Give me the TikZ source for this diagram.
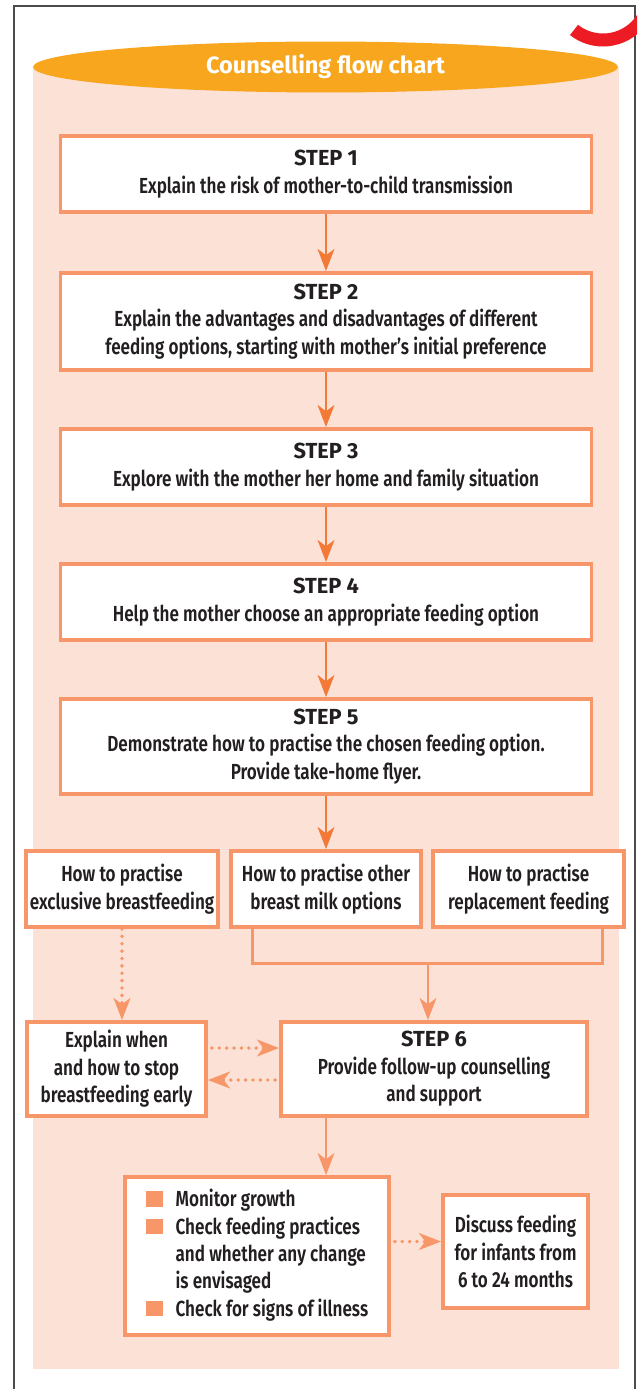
\documentclass[tikz,border=0pt]{standalone}
\usepackage{fontspec}
\setmainfont{Fira Sans}[FakeStretch=0.785, UprightFont={* SemiBold}, BoldFont={* Bold}]
\newfontfamily\headfont{Fira Sans}[UprightFont={* Bold}]
\usepackage{tikz}
\usetikzlibrary{arrows.meta, positioning, calc, shapes.geometric}
\definecolor{boxc}{RGB}{247,150,104}
\definecolor{arrc}{RGB}{243,122,54}
\definecolor{pinkbg}{RGB}{252,226,214}
\definecolor{titlec}{RGB}{247,166,30}
\definecolor{ink}{RGB}{35,31,32}
\definecolor{redarc}{RGB}{237,28,36}
\newcommand{\sqbullet}{\textcolor{boxc}{\rule{9.6pt}{8.8pt}}}
\newcommand{\stephead}[1]{{\headfont STEP #1}}

\begin{document}
\begin{tikzpicture}[x=0.02cm, y=-0.02cm, font=\fontsize{12.4}{15.6}\selectfont,
    >={Stealth[length=12.5pt, width=9.5pt, inset=3.5pt]},
    box/.style={draw=boxc, line width=2.2pt, fill=white, align=center, text=ink, inner sep=2pt},
    stepbox/.style={box, minimum width=10.62cm, minimum height=1.52cm},
    optbox/.style={box, minimum width=3.81cm, minimum height=1.52cm},
    arr/.style={->, draw=arrc, line width=1.7pt},
    link/.style={draw=boxc, line width=1.7pt},
    arrl/.style={link, ->},
    dots/.style={->, draw=boxc, line width=2.2pt, line cap=round, dash pattern=on 0pt off 4.2pt}]
    \useasboundingbox (0,0) rectangle (637,1389);
    % background and frame
    \fill[pinkbg] (33,67) rectangle (619,1369);
    \draw[gray!60!black, line width=1.3pt] (14,1389) -- (14,6) -- (635,6) -- (635,1389);
    \begin{scope}
        \clip (603,-7) -- (552,58) -- (603,70) -- (637,70) -- (637,-7) -- cycle;
        \draw[redarc, line width=7.4pt] (603,-7) circle[radius=47];
    \end{scope}
    \node[ellipse, fill=titlec, minimum width=11.7cm, minimum height=0.92cm, text=white,
        font=\fontsize{13.4}{15}\headfont] (ttl) at (325.5,67) {Counselling flow chart};

    % steps
    \node[stepbox] (s1) at (326,174) {\stephead{1}\\Explain the risk of mother-to-child transmission};
    \node[stepbox, minimum height=1.94cm] (s2) at (326,321.5) {\stephead{2}\\Explain the advantages and disadvantages of different\\feeding options, starting with mother’s initial preference};
    \node[stepbox] (s3) at (326,467) {\stephead{3}\\Explore with the mother her home and family situation};
    \node[stepbox] (s4) at (326,602) {\stephead{4}\\Help the mother choose an appropriate feeding option};
    \node[stepbox, minimum height=1.90cm] (s5) at (326,746.5) {\stephead{5}\\Demonstrate how to practise the chosen feeding option.\\Provide take-home flyer.};
    \draw[arr] (s1) -- (s2);
    \draw[arr] (s2) -- (s3);
    \draw[arr] (s3) -- (s4);
    \draw[arr] (s4) -- (s5);

    % feeding options
    \node[optbox] (pa) at (122,889) {How to practise\\exclusive breastfeeding};
    \node[optbox] (pb) at (326,889) {How to practise other\\breast milk options};
    \node[optbox] (pc) at (528.5,889) {How to practise\\replacement feeding};
    \draw[arr] (s5) -- (pb);
    \coordinate (join) at (428,963);
    \draw[link] ($(pb.south west)+(24,0)$) |- (join) -| ($(pc.south east)+(-23,0)$);

    % step 6
    \node[box, minimum width=3.58cm, minimum height=1.88cm] (ex) at (116.5,1069) {Explain when\\and how to stop\\breastfeeding early};
    \node[box, minimum width=6.12cm, minimum height=1.88cm] (s6) at (434,1069) {\stephead{6}\\Provide follow-up counselling\\and support};
    \draw[arrl] (join) -- (join |- s6.north);
    \draw[dots] (pa.south) -- (pa.south |- ex.north);
    \draw[dots] ($(ex.east)+(4,-21)$) -- ($(s6.west)+(0,-21)$);
    \draw[dots] ($(s6.west)+(-4,11)$) -- ($(ex.east)+(0,11)$);

    % follow-up
    \node[box, minimum width=5.28cm, minimum height=3.16cm] (mb) at (257,1256) {%
        \begin{tabular}{@{}l@{\hspace{7.4pt}}l@{}}
        \sqbullet & Monitor growth\\
        \sqbullet & Check feeding practices\\
                  & and whether any change\\
                  & is envisaged\\
        \sqbullet & Check for signs of illness
        \end{tabular}};
    \node[box, minimum width=2.9cm, minimum height=2.26cm] (dc) at (515.5,1251.5) {Discuss feeding\\for infants from\\6 to 24 months};
    \draw[arrl] (s1.south |- s6.south) -- (s1.south |- mb.north);
    \coordinate (dcin) at ($(dc.west)+(0,-10)$);
    \draw[dots] ($(mb.east |- dcin)+(4,0)$) -- (dcin);
\end{tikzpicture}
\end{document}
